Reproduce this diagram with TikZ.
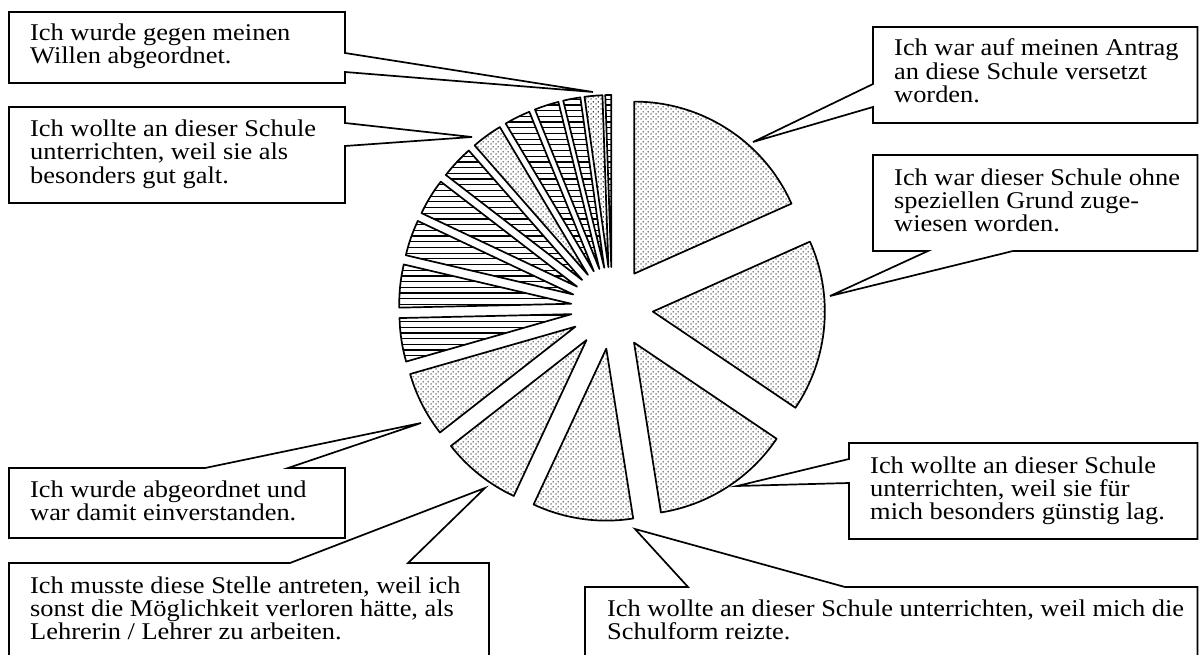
\documentclass[tikz,border=0pt]{standalone}
\usepackage{fontspec}
\setmainfont{Liberation Serif}[FakeStretch=1.1]
\usetikzlibrary{patterns}
\pgfdeclarepatternformonly{piedots}{\pgfpointorigin}{\pgfpoint{5pt}{5pt}}{\pgfpoint{5pt}{5pt}}{%
  \pgfpathcircle{\pgfpoint{1.25pt}{1.25pt}}{0.8pt}%
  \pgfpathcircle{\pgfpoint{3.75pt}{3.75pt}}{0.8pt}%
  \pgfusepath{fill}}
\pgfdeclarepatternformonly{piehatch}{\pgfpoint{-1pt}{-1pt}}{\pgfpoint{6pt}{6.7pt}}{\pgfpoint{5pt}{5.7pt}}{%
  \pgfsetlinewidth{1.2pt}%
  \pgfpathmoveto{\pgfpoint{-0.5pt}{2.85pt}}%
  \pgfpathlineto{\pgfpoint{5.5pt}{2.85pt}}%
  \pgfusepath{stroke}}
\tikzset{
  slice/.style={draw=black, line width=1.7pt, line join=round},
  callout/.style={draw=black, fill=white, line width=1.7pt, line join=miter},
  lab/.style={anchor=base west, align=left, inner sep=0pt,
    font=\fontsize{24pt}{23.3pt}\selectfont}
}
\begin{document}
\begin{tikzpicture}[x=1pt, y=-1pt]
\useasboundingbox (0,0) rectangle (1199,655);
\fill[white] (0,0) rectangle (1199,655);
% exploded pie
\coordinate (C) at (612,308);
\begin{scope}[shift={(C)}]
\foreach \sa/\sb/\pat [count=\i] in {
  0/66/piedots, 66/124/piedots, 124/171/piedots, 171/205/piedots,
  205/232/piedots, 232/254/piedots, 254/268.7/piehatch, 268.7/283.2/piehatch,
  283.2/295.3/piehatch, 295.3/307.6/piehatch, 307.6/318.8/piehatch,
  318.8/329.2/piedots, 329.2/338/piehatch, 338/346.2/piehatch,
  346.2/352/piehatch, 352/358/piedots, 358/360/piehatch}{
  \pgfmathsetmacro\mid{(\sa+\sb)/2-90}
  \pgfmathsetmacro\st{\sa-90}
  \pgfmathsetmacro\en{\sb-90}
  \draw[slice, pattern=\pat] (\mid:41) coordinate (apex\i) -- ++(\st:172)
    arc[start angle=\st, end angle=\en, radius=172] -- cycle;
}
\end{scope}
% pointer tips
\coordinate (tipA) at (593,92);
\coordinate (tipB) at (472,137);
\coordinate (tipC) at (753,142);
\coordinate (tipD) at (830,296);
\coordinate (tipE) at (421,423);
\coordinate (tipF) at (485,488);
\coordinate (tipG) at (737,486);
\coordinate (tipH) at (635,529);
% callouts
\draw[callout] (9,12) -- (345,12) -- (345,53) -- (tipA) -- (345,72) -- (345,83) -- (9,83) -- cycle;
\draw[callout] (9,107) -- (345,107) -- (345,123) -- (tipB) -- (345,146) -- (345,203) -- (9,203) -- cycle;
\draw[callout] (873,27) -- (1197.5,27) -- (1197.5,123) -- (873,123) -- (873,107) -- (tipC) -- (873,84) -- cycle;
\draw[callout] (873,155) -- (1197.5,155) -- (1197.5,251) -- (1013,251) -- (tipD) -- (928,251) -- (873,251) -- cycle;
\draw[callout] (9,468) -- (205,468) -- (tipE) -- (288,468) -- (345,468) -- (345,538) -- (9,538) -- cycle;
\draw[callout] (9,563) -- (290,563) -- (tipF) -- (408,563) -- (489,563) -- (489,670) -- (9,670) -- cycle;
\draw[callout] (849,443) -- (1197.5,443) -- (1197.5,539) -- (849,539) -- (849,483) -- (tipG) -- (849,459) -- cycle;
\draw[callout] (585,587) -- (688,587) -- (tipH) -- (845,587) -- (1197.5,587) -- (1197.5,670) -- (585,670) -- cycle;
% texts (anchor at the baseline of the last line)
\node[lab] (tA) at (30,63.8) {Ich wurde gegen meinen\\Willen abgeordnet.};
\node[lab] (tB) at (30,183.1) {Ich wollte an dieser Schule\\unterrichten, weil sie als\\besonders gut galt.};
\node[lab] (tC) at (894,102.6) {Ich war auf meinen Antrag\\an diese Schule versetzt\\worden.};
\node[lab] (tD) at (894,231.6) {Ich war dieser Schule ohne\\speziellen Grund zuge-\\wiesen worden.};
\node[lab] (tE) at (30,520.8) {Ich wurde abgeordnet und\\war damit einverstanden.};
\node[lab] (tF) at (30,639.9) {Ich musste diese Stelle antreten, weil ich\\sonst die Möglichkeit verloren hätte, als\\Lehrerin / Lehrer zu arbeiten.};
\node[lab] (tG) at (870,519.9) {Ich wollte an dieser Schule\\unterrichten, weil sie für\\mich besonders günstig lag.};
\node[lab] (tH) at (607,639.3) {Ich wollte an dieser Schule unterrichten, weil mich die\\Schulform reizte.};
\end{tikzpicture}
\end{document}
